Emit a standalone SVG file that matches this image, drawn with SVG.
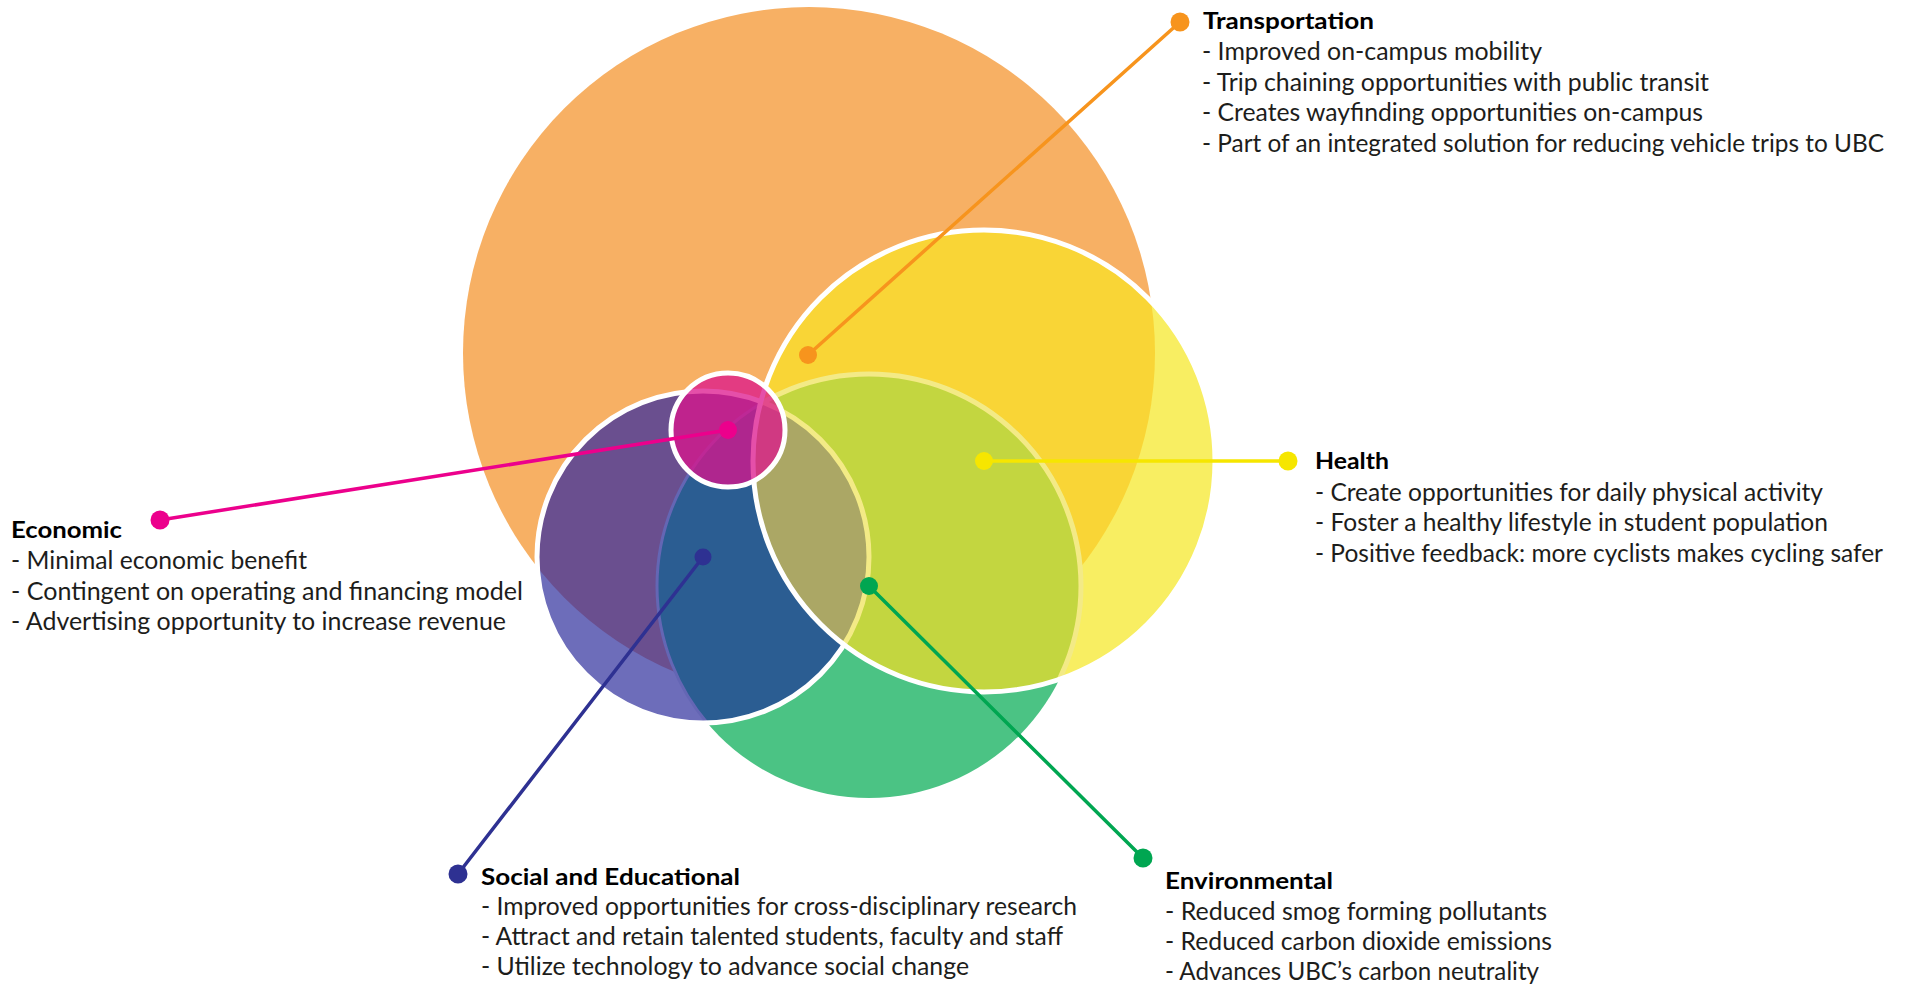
<svg xmlns="http://www.w3.org/2000/svg" width="1908" height="987" viewBox="0 0 1908 987">
<style>
  .t{font-family:'Myriad Pro',Lato,'Liberation Sans',sans-serif;font-size:24.5px;fill:#1d1d1b}
  .h{font-family:'Myriad Pro',Lato,'Liberation Sans',sans-serif;font-size:22px;font-weight:bold;fill:#000}
  .ws{fill:none;stroke:#fff;stroke-width:5}
  .ly{fill:none;stroke:#F3EA86;stroke-width:5}
  .ln{fill:none;stroke-width:3.5;stroke-linecap:round}
</style>
<defs>
  <clipPath id="cO"><circle cx="809" cy="353" r="346"/></clipPath>
  <clipPath id="cG"><circle cx="869" cy="586" r="212"/></clipPath>
  <clipPath id="cP"><circle cx="703" cy="557" r="166"/></clipPath>
  <clipPath id="cY"><circle cx="984" cy="461" r="231"/></clipPath>
</defs>
<rect width="1908" height="987" fill="#fff"/>

<g id="circle-transportation">
  <circle cx="809" cy="353" r="346" fill="#F7B064"/>
</g>
<g id="circle-environmental">
  <circle cx="869" cy="586" r="212" fill="#4BC384"/>
</g>
<g id="circle-social">
  <circle cx="703" cy="557" r="166" fill="#6D6DBA"/>
  <g clip-path="url(#cO)"><circle cx="703" cy="557" r="166" fill="#6A4F8F"/></g>
  <g clip-path="url(#cG)"><circle cx="703" cy="557" r="166" fill="#2B5D92"/></g>
  <g clip-path="url(#cP)"><circle cx="869" cy="586" r="212" fill="none" stroke="#6466B4" stroke-width="3"/></g>
  <circle cx="703" cy="557" r="166" class="ws"/>
</g>
<g id="circle-health">
  <circle cx="984" cy="461" r="231" fill="#F8EE62"/>
  <g clip-path="url(#cO)"><circle cx="984" cy="461" r="231" fill="#F9D536"/></g>
  <g clip-path="url(#cG)"><circle cx="984" cy="461" r="231" fill="#C3D640"/></g>
  <g clip-path="url(#cG)"><g clip-path="url(#cP)"><circle cx="984" cy="461" r="231" fill="#ABA765"/></g></g>
  <g clip-path="url(#cY)">
    <circle cx="869" cy="586" r="212" class="ly"/>
    <circle cx="703" cy="557" r="166" class="ly"/>
  </g>
  <circle cx="984" cy="461" r="231" class="ws"/>
</g>
<g id="circle-economic">
  <circle cx="728" cy="430" r="57" fill="#DC148C" fill-opacity="0.75" stroke="#fff" stroke-width="5"/>
</g>

<g id="connectors">
  <line x1="808" y1="355" x2="1180" y2="22" class="ln" stroke="#F7941D" stroke-width="3"/>
  <circle cx="808" cy="355" r="9" fill="#F7941D"/>
  <circle cx="1180" cy="22" r="9.5" fill="#F7941D"/>

  <line x1="728" y1="430" x2="160" y2="520" class="ln" stroke="#EC008C" stroke-width="4"/>
  <circle cx="728" cy="430" r="9" fill="#EC008C"/>
  <circle cx="160" cy="520" r="9.5" fill="#EC008C"/>

  <line x1="984" y1="461" x2="1288" y2="461" class="ln" stroke="#F6E600" stroke-width="4"/>
  <circle cx="984" cy="461" r="9" fill="#F6E600"/>
  <circle cx="1288" cy="461" r="9.5" fill="#F6E600"/>

  <line x1="703" y1="557" x2="458" y2="874" class="ln" stroke="#2E3192" stroke-width="3.5"/>
  <circle cx="703" cy="557" r="8.5" fill="#2E3192"/>
  <circle cx="458" cy="874" r="9.5" fill="#2E3192"/>

  <line x1="869" y1="586" x2="1143" y2="858" class="ln" stroke="#00A651" stroke-width="4"/>
  <circle cx="869" cy="586" r="9" fill="#00A651"/>
  <circle cx="1143" cy="858" r="9.5" fill="#00A651"/>
</g>

<g id="node-transportation">
  <text class="h" x="1203" y="29" textLength="171" lengthAdjust="spacingAndGlyphs">Transportation</text>
  <text class="t" x="1202" y="60" textLength="340" lengthAdjust="spacingAndGlyphs">- Improved on-campus mobility</text>
  <text class="t" x="1202" y="91" textLength="507" lengthAdjust="spacingAndGlyphs">- Trip chaining opportunities with public transit</text>
  <text class="t" x="1202" y="121" textLength="501" lengthAdjust="spacingAndGlyphs">- Creates wayfinding opportunities on-campus</text>
  <text class="t" x="1202" y="152" textLength="682" lengthAdjust="spacingAndGlyphs">- Part of an integrated solution for reducing vehicle trips to UBC</text>
</g>

<g id="node-health">
  <text class="h" x="1315" y="469" textLength="74" lengthAdjust="spacingAndGlyphs">Health</text>
  <text class="t" x="1315" y="501" textLength="508" lengthAdjust="spacingAndGlyphs">- Create opportunities for daily physical activity</text>
  <text class="t" x="1315" y="531" textLength="513" lengthAdjust="spacingAndGlyphs">- Foster a healthy lifestyle in student population</text>
  <text class="t" x="1315" y="562" textLength="568" lengthAdjust="spacingAndGlyphs">- Positive feedback: more cyclists makes cycling safer</text>
</g>

<g id="node-economic">
  <text class="h" x="11" y="538" textLength="111" lengthAdjust="spacingAndGlyphs">Economic</text>
  <text class="t" x="11" y="569" textLength="296" lengthAdjust="spacingAndGlyphs">- Minimal economic benefit</text>
  <text class="t" x="11" y="600" textLength="512" lengthAdjust="spacingAndGlyphs">- Contingent on operating and financing model</text>
  <text class="t" x="11" y="630" textLength="495" lengthAdjust="spacingAndGlyphs">- Advertising opportunity to increase revenue</text>
</g>

<g id="node-social">
  <text class="h" x="481" y="885" textLength="259" lengthAdjust="spacingAndGlyphs">Social and Educational</text>
  <text class="t" x="481" y="915" textLength="596" lengthAdjust="spacingAndGlyphs">- Improved opportunities for cross-disciplinary research</text>
  <text class="t" x="481" y="945" textLength="582" lengthAdjust="spacingAndGlyphs">- Attract and retain talented students, faculty and staff</text>
  <text class="t" x="481" y="975" textLength="488" lengthAdjust="spacingAndGlyphs">- Utilize technology to advance social change</text>
</g>

<g id="node-environmental">
  <text class="h" x="1165" y="889" textLength="168" lengthAdjust="spacingAndGlyphs">Environmental</text>
  <text class="t" x="1165" y="920" textLength="382" lengthAdjust="spacingAndGlyphs">- Reduced smog forming pollutants</text>
  <text class="t" x="1165" y="950" textLength="387" lengthAdjust="spacingAndGlyphs">- Reduced carbon dioxide emissions</text>
  <text class="t" x="1165" y="980" textLength="374" lengthAdjust="spacingAndGlyphs">- Advances UBC’s carbon neutrality</text>
</g>
</svg>
